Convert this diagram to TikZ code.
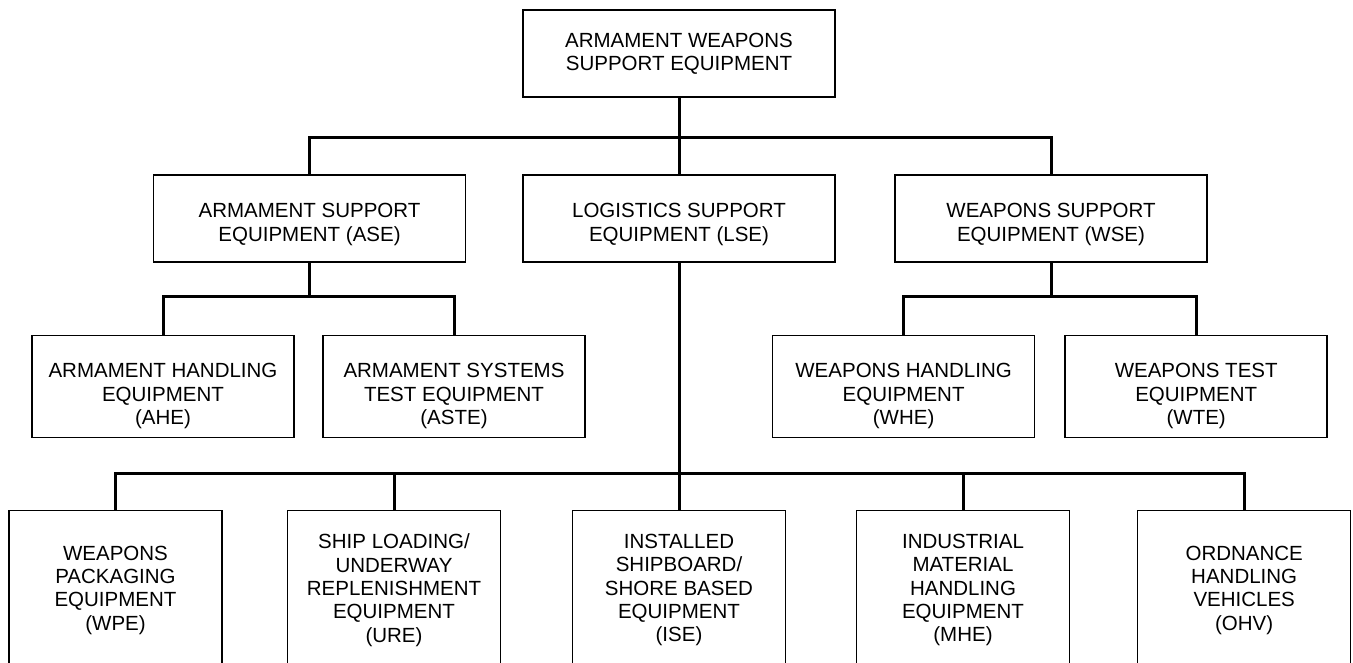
\documentclass[tikz,border=0pt]{standalone}
\usepackage{fontspec}
\setmainfont{Liberation Sans}
\begin{document}
\begin{tikzpicture}[x=1pt,y=-1pt,
  box/.style={draw=black, line width=1.5pt, inner sep=0pt, align=center,
              font=\fontsize{20.5}{23.3}\selectfont},
  toplevel/.style={box, minimum width=312pt, minimum height=87pt},
  midlevel/.style={box, minimum width=262pt, minimum height=102pt},
  lowlevel/.style={box, minimum width=213pt, minimum height=159pt},
  conn/.style={draw=black, line width=3pt}]
\useasboundingbox (0,0) rectangle (1353,662);
\clip (0,0) rectangle (1353,662);

% bar heights of the tree
\coordinate (bar1) at (0,137);
\coordinate (bar2) at (0,296.7);
\coordinate (bar3) at (0,473.3);

% root
\node[toplevel] (awse) at (679,53.5) {ARMAMENT WEAPONS\\SUPPORT EQUIPMENT};

% second level
\node[toplevel] (ase) at (309.5,218.7) {\rule{0pt}{26pt}ARMAMENT SUPPORT\\EQUIPMENT (ASE)};
\node[toplevel] (lse) at (679,218.7) {\rule{0pt}{26pt}LOGISTICS SUPPORT\\EQUIPMENT (LSE)};
\node[toplevel] (wse) at (1051,218.7) {\rule{0pt}{26pt}WEAPONS SUPPORT\\EQUIPMENT (WSE)};

% third level
\node[midlevel] (ahe) at (163,386.7) {\rule{0pt}{33pt}ARMAMENT HANDLING\\EQUIPMENT\\(AHE)};
\node[midlevel] (aste) at (454,386.7) {\rule{0pt}{33pt}ARMAMENT SYSTEMS\\TEST EQUIPMENT\\(ASTE)};
\node[midlevel] (whe) at (903.6,386.7) {\rule{0pt}{33pt}WEAPONS HANDLING\\EQUIPMENT\\(WHE)};
\node[midlevel] (wte) at (1196.2,386.7) {\rule{0pt}{33pt}WEAPONS TEST\\EQUIPMENT\\(WTE)};

% logistics branches
\node[lowlevel] (wpe) at (115.5,590.2) {WEAPONS\\PACKAGING\\EQUIPMENT\\(WPE)};
\node[lowlevel] (ure) at (394,590.2) {SHIP LOADING/\\UNDERWAY\\REPLENISHMENT\\EQUIPMENT\\(URE)};
\node[lowlevel] (ise) at (679,590.2) {INSTALLED\\SHIPBOARD/\\SHORE BASED\\EQUIPMENT\\(ISE)};
\node[lowlevel] (mhe) at (963,590.2) {INDUSTRIAL\\MATERIAL\\HANDLING\\EQUIPMENT\\(MHE)};
\node[lowlevel] (ohv) at (1244.2,590.2) {ORDNANCE\\HANDLING\\VEHICLES\\(OHV)};

% root to second level
\draw[conn] (awse.south) -- (lse.north);
\draw[conn] (ase.north) |- (bar1 -| wse.north) -- (wse.north);

% armament support
\draw[conn] (ase.south) -- (ase.south |- bar2);
\draw[conn] (ahe.north) |- (bar2 -| aste.north) -- (aste.north);

% weapons support
\draw[conn] (wse.south) -- (wse.south |- bar2);
\draw[conn] (whe.north) |- (bar2 -| wte.north) -- (wte.north);

% logistics support
\draw[conn] (lse.south) -- (ise.north);
\draw[conn] (wpe.north) |- (bar3 -| ohv.north) -- (ohv.north);
\draw[conn] (ure.north) -- (ure.north |- bar3);
\draw[conn] (mhe.north) -- (mhe.north |- bar3);
\end{tikzpicture}
\end{document}
